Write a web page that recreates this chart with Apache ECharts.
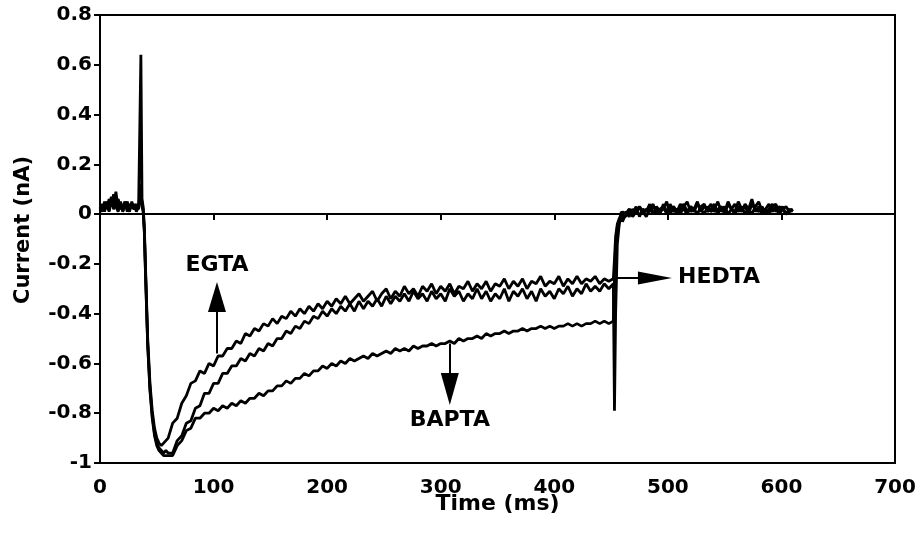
<!DOCTYPE html>
<html>
<head>
<meta charset="utf-8">
<script src="https://cdn.jsdelivr.net/npm/echarts@6/dist/echarts.min.js"></script>
<style>
  html, body { margin: 0; padding: 0; background: #fff; }
  #chart { width: 920px; height: 535px; }
</style>
</head>
<body>
<div id="chart"></div>
<script>
// Sample times (ms) for each part of the recording
const tPre = [0, 2, 4, 6, 8, 10, 12, 14, 16, 18, 20, 22, 24, 26, 28, 30, 32, 34];
const tOnset = [35, 36, 37, 38, 39, 40, 42, 44, 46, 48, 50, 52, 54, 56, 58];
const decayStart = 60, decayStep = 4, decayCount = 99;   // 60 ... 452 ms
const tOffset = [453, 454, 455.5, 457, 459];
const tailStart = 460, tailStep = 3, tailCount = 51;      // 460 ... 610 ms

// Current traces (nA), one value per sample time
const egta = [
  // pre-pulse
  0.02, 0.04, 0.01, 0.05, 0.03, 0.07, 0.02, 0.04, 0.06, 0.02, 0.03, 0.05, 0.01, 0.04, 0.03, 0.02, 0.04, 0.03,
  // onset
  0.03, 0.64, 0.06, 0.03, -0.05, -0.20, -0.50, -0.68, -0.79, -0.86, -0.90, -0.92, -0.93, -0.92, -0.91,
  // decay
  -0.90, -0.84, -0.82, -0.76, -0.73, -0.68, -0.67, -0.63, -0.64, -0.60,
  -0.61, -0.57, -0.57, -0.54, -0.54, -0.51, -0.52, -0.48, -0.49, -0.46,
  -0.47, -0.44, -0.45, -0.42, -0.44, -0.41, -0.42, -0.39, -0.41, -0.38,
  -0.40, -0.37, -0.39, -0.36, -0.38, -0.35, -0.37, -0.34, -0.36, -0.33,
  -0.36, -0.34, -0.32, -0.35, -0.33, -0.31, -0.35, -0.32, -0.30, -0.34,
  -0.31, -0.33, -0.29, -0.32, -0.30, -0.33, -0.29, -0.31, -0.28, -0.32,
  -0.29, -0.31, -0.28, -0.32, -0.29, -0.30, -0.27, -0.31, -0.28, -0.30,
  -0.27, -0.31, -0.28, -0.29, -0.26, -0.30, -0.27, -0.29, -0.26, -0.30,
  -0.27, -0.28, -0.25, -0.29, -0.27, -0.28, -0.25, -0.29, -0.26, -0.28,
  -0.25, -0.28, -0.26, -0.27, -0.25, -0.28, -0.26, -0.27, -0.26,
  // offset
  -0.18, -0.09, -0.04, -0.02, 0.00,
  // tail
  0.01, -0.01, 0.02, 0.00, 0.03, -0.01, 0.02, 0.01, 0.04, 0.00,
  0.03, 0.01, 0.02, 0.05, 0.00, 0.03, 0.01, 0.04, 0.02, 0.00,
  0.03, 0.01, 0.04, 0.02, 0.00, 0.03, 0.01, 0.02, 0.05, 0.01,
  0.03, 0.00, 0.02, 0.04, 0.01, 0.03, 0.00, 0.02, 0.06, 0.01,
  0.03, 0.00, 0.02, 0.04, 0.01, 0.03, 0.00, 0.02, 0.03, 0.01,
  0.02
];

const hedta = [
  // pre-pulse
  0.03, 0.01, 0.05, 0.02, 0.06, 0.03, 0.08, 0.03, 0.01, 0.05, 0.02, 0.04, 0.03, 0.01, 0.05, 0.02, 0.03, 0.02,
  // onset
  0.02, 0.10, 0.04, 0.02, -0.06, -0.22, -0.52, -0.70, -0.81, -0.88, -0.92, -0.94, -0.95, -0.96, -0.95,
  // decay
  -0.96, -0.96, -0.91, -0.89, -0.84, -0.83, -0.78, -0.77, -0.72, -0.72,
  -0.68, -0.68, -0.64, -0.64, -0.61, -0.61, -0.58, -0.59, -0.56, -0.57,
  -0.54, -0.55, -0.52, -0.53, -0.50, -0.50, -0.47, -0.48, -0.45, -0.46,
  -0.43, -0.44, -0.41, -0.42, -0.39, -0.41, -0.38, -0.40, -0.37, -0.39,
  -0.36, -0.39, -0.35, -0.38, -0.35, -0.37, -0.34, -0.37, -0.33, -0.36,
  -0.33, -0.35, -0.32, -0.35, -0.31, -0.34, -0.32, -0.35, -0.31, -0.34,
  -0.32, -0.35, -0.30, -0.33, -0.31, -0.35, -0.32, -0.34, -0.30, -0.34,
  -0.31, -0.35, -0.32, -0.34, -0.30, -0.35, -0.31, -0.33, -0.30, -0.34,
  -0.31, -0.35, -0.30, -0.33, -0.31, -0.34, -0.30, -0.32, -0.29, -0.33,
  -0.30, -0.32, -0.28, -0.31, -0.29, -0.31, -0.28, -0.30, -0.28,
  // offset (tail current spike)
  -0.79, -0.40, -0.12, -0.05, 0.01,
  // tail
  -0.02, 0.01, -0.01, 0.02, 0.00, 0.03, 0.01, -0.01, 0.02, 0.04,
  0.00, 0.02, 0.03, 0.00, 0.04, 0.01, 0.02, 0.00, 0.03, 0.05,
  0.01, 0.02, 0.00, 0.03, 0.04, 0.01, 0.02, 0.04, 0.00, 0.03,
  0.01, 0.05, 0.02, 0.00, 0.03, 0.01, 0.04, 0.02, 0.00, 0.03,
  0.05, 0.01, 0.02, 0.00, 0.03, 0.04, 0.01, 0.03, 0.00, 0.02,
  0.01
];

const bapta = [
  // pre-pulse
  0.01, 0.03, 0.02, 0.04, 0.01, 0.05, 0.04, 0.09, 0.02, 0.04, 0.01, 0.03, 0.05, 0.02, 0.03, 0.04, 0.01, 0.03,
  // onset
  0.03, 0.12, 0.03, 0.01, -0.07, -0.23, -0.53, -0.71, -0.82, -0.89, -0.93, -0.95, -0.96, -0.97, -0.97,
  // decay
  -0.97, -0.97, -0.93, -0.91, -0.87, -0.86, -0.82, -0.82, -0.80, -0.80,
  -0.78, -0.79, -0.77, -0.78, -0.76, -0.77, -0.75, -0.76, -0.74, -0.74,
  -0.72, -0.73, -0.71, -0.71, -0.69, -0.69, -0.67, -0.68, -0.66, -0.66,
  -0.64, -0.65, -0.63, -0.63, -0.61, -0.62, -0.60, -0.61, -0.59, -0.60,
  -0.58, -0.59, -0.58, -0.57, -0.58, -0.56, -0.57, -0.56, -0.55, -0.56,
  -0.54, -0.55, -0.54, -0.55, -0.53, -0.54, -0.53, -0.53, -0.52, -0.53,
  -0.52, -0.52, -0.51, -0.52, -0.50, -0.51, -0.50, -0.50, -0.49, -0.50,
  -0.48, -0.49, -0.48, -0.48, -0.47, -0.48, -0.47, -0.47, -0.46, -0.47,
  -0.46, -0.46, -0.45, -0.46, -0.45, -0.46, -0.45, -0.45, -0.44, -0.45,
  -0.44, -0.45, -0.44, -0.44, -0.43, -0.44, -0.43, -0.44, -0.43,
  // offset
  -0.25, -0.12, -0.05, -0.03, -0.01,
  // tail
  -0.03, 0.00, 0.02, -0.01, 0.01, 0.03, 0.00, 0.02, 0.01, 0.03,
  0.02, 0.00, 0.04, 0.01, 0.02, 0.03, 0.00, 0.02, 0.04, 0.01,
  0.03, 0.02, 0.05, 0.01, 0.03, 0.02, 0.04, 0.01, 0.02, 0.03,
  0.00, 0.04, 0.02, 0.01, 0.05, 0.02, 0.03, 0.00, 0.04, 0.02,
  0.01, 0.03, 0.00, 0.02, 0.04, 0.01, 0.03, 0.02, 0.00, 0.01,
  0.02
];

// Axis ticks
const xTicks = [0, 100, 200, 300, 400, 500, 600, 700];
const yTicks = [-1, -0.8, -0.6, -0.4, -0.2, 0, 0.2, 0.4, 0.6, 0.8];

// Annotation arrows: [tail, head centre] in (ms, nA)
const arrowEgta = [[103, -0.56], [103, -0.333]];
const arrowHedta = [[453, -0.257], [488.6, -0.257]];
const arrowBapta = [[308, -0.52], [308, -0.703]];

// Annotation labels
const labelNames = ['EGTA', 'HEDTA', 'BAPTA'];
const labelPos = [[103, -0.205], [509, -0.253], [308, -0.83]];
const labelAlign = ['center', 'left', 'center'];

function sampleGrid(start, step, n) {
  const out = [];
  for (let i = 0; i < n; i++) out.push(start + step * i);
  return out;
}
const timeMs = [].concat(
  tPre, tOnset, sampleGrid(decayStart, decayStep, decayCount), tOffset,
  sampleGrid(tailStart, tailStep, tailCount)
);
const pairs = vals => vals.map((v, i) => [timeMs[i], v]);

const FONT = 'DejaVu Sans';
const traceStyle = { color: '#000', width: 2.8 };

function traceSeries(name, vals) {
  return {
    name, type: 'line', data: pairs(vals), showSymbol: false, symbol: 'none',
    lineStyle: traceStyle, z: 3, silent: true
  };
}

function arrow(seg, headSize) {
  return [
    { coord: seg[0], symbol: 'none' },
    { coord: seg[1], symbol: 'triangle', symbolSize: headSize }
  ];
}

const labelText = {
  fontFamily: FONT, fontSize: 22, fontWeight: 'bold', color: '#000',
  verticalAlign: 'middle', textBorderWidth: 0, opacity: 1
};

const chart = echarts.init(document.getElementById('chart'), null, { renderer: 'canvas' });
chart.setOption({
  animation: false,
  backgroundColor: '#fff',
  textStyle: { fontFamily: FONT, color: '#000' },
  grid: {
    left: 100, right: 25, top: 15, bottom: 72,
    show: true, borderColor: '#000', borderWidth: 2, backgroundColor: 'transparent'
  },
  xAxis: {
    type: 'value', min: xTicks[0], max: xTicks[xTicks.length - 1], interval: 100,
    name: 'Time (ms)', nameLocation: 'middle', nameGap: 30, nameMoveOverlap: false,
    nameTextStyle: { fontFamily: FONT, fontSize: 22, fontWeight: 'bold', color: '#000' },
    axisLine: { lineStyle: { color: '#000', width: 2 } },
    axisTick: { show: true, inside: false, length: 6, lineStyle: { color: '#000', width: 2 } },
    axisLabel: { fontFamily: FONT, fontSize: 20, fontWeight: 'bold', color: '#000', margin: 15 },
    splitLine: { show: false }
  },
  yAxis: {
    type: 'value', min: yTicks[0], max: yTicks[yTicks.length - 1], interval: 0.2,
    name: 'Current (nA)', nameLocation: 'middle', nameGap: 66, nameRotate: 90, nameMoveOverlap: false,
    nameTextStyle: { fontFamily: FONT, fontSize: 21, fontWeight: 'bold', color: '#000', padding: [0, 0, 0, 18] },
    axisLine: { lineStyle: { color: '#000', width: 2 } },
    axisTick: { show: true, inside: false, length: 6, lineStyle: { color: '#000', width: 2 } },
    axisLabel: { fontFamily: FONT, fontSize: 20, fontWeight: 'bold', color: '#000', margin: 8 },
    splitLine: { show: false }
  },
  series: [
    traceSeries('BAPTA', bapta),
    traceSeries('HEDTA', hedta),
    Object.assign(traceSeries('EGTA', egta), {
      markLine: {
        silent: true, animation: false,
        label: { show: false },
        lineStyle: { color: '#000', width: 2, type: 'solid' },
        symbol: ['none', 'none'],
        data: [
          [{ coord: [0, 0], symbol: 'none', lineStyle: { width: 1.5 } },
           { coord: [700, 0], symbol: 'none' }],
          arrow(arrowEgta, [18, 30]),
          arrow(arrowHedta, [13, 34]),
          arrow(arrowBapta, [18, 32])
        ]
      },
      markPoint: {
        silent: true, animation: false,
        symbol: 'circle', symbolSize: 0,
        itemStyle: { color: '#000', opacity: 0 },
        label: Object.assign({ show: true, position: [0, 0], formatter: p => p.name }, labelText),
        data: labelNames.map((n, i) => ({
          coord: labelPos[i], name: n,
          label: Object.assign({ align: labelAlign[i] }, labelText)
        }))
      }
    })
  ]
});
</script>
</body>
</html>
